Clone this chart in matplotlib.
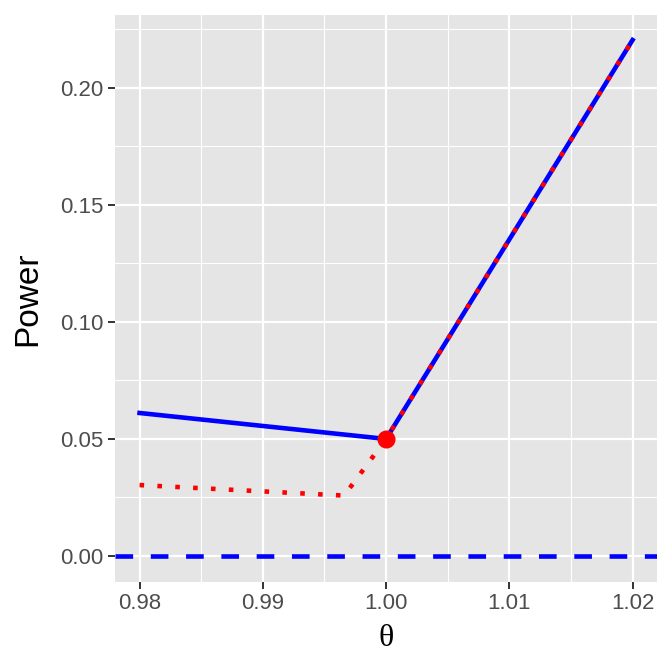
import numpy as np
import matplotlib.pyplot as plt

# data
theta_blue = [0.98, 1.00, 1.02]
power_blue = [0.0611, 0.0500, 0.2205]

theta_red = [0.98, 0.9966, 1.00, 1.02]
power_red = [0.0303, 0.0258, 0.0500, 0.2205]

level = 0.0
point_x = [1.00]
point_y = [0.05]

xticks = [0.98, 0.99, 1.00, 1.01, 1.02]
yticks = [0.00, 0.05, 0.10, 0.15, 0.20]

plt.rcParams['font.family'] = ['Liberation Sans', 'DejaVu Sans']

fig = plt.figure(figsize=(6.72, 6.72), dpi=100)
ax = fig.add_axes([0.171, 0.1344, 0.807, 0.8433])
ax.set_facecolor('#E5E5E5')

# grid like ggplot
ax.set_xticks(xticks)
ax.set_yticks(yticks)
ax.set_xticks([0.985, 0.995, 1.005, 1.015], minor=True)
ax.set_yticks([0.025, 0.075, 0.125, 0.175, 0.225], minor=True)
ax.grid(which='major', color='white', linewidth=1.6)
ax.grid(which='minor', color='white', linewidth=0.8)
ax.set_axisbelow(True)
for s in ax.spines.values():
    s.set_visible(False)

lw = 3.3
ax.axhline(level, color='blue', linewidth=lw, linestyle=(0, (3.85, 3.85)), dash_capstyle='butt')
ax.plot(theta_blue, power_blue, color='blue', linewidth=lw)
ax.plot(theta_red, power_red, color='red', linewidth=lw, linestyle=(0, (1.0, 2.9)),
        dash_capstyle='butt')
ax.plot(point_x, point_y, 'o', color='red', markersize=12, zorder=5)

ax.set_xlim(0.978, 1.022)
ax.set_ylim(-0.011, 0.2312)
ax.set_xticklabels(['0.98', '0.99', '1.00', '1.01', '1.02'])
ax.set_yticklabels(['0.00', '0.05', '0.10', '0.15', '0.20'])
ax.tick_params(which='major', length=5, width=1.4, color='#333333',
               labelsize=16, labelcolor='#4D4D4D', pad=3.5)
ax.tick_params(which='minor', length=0)

ax.set_xlabel('θ', family='Liberation Serif', fontsize=23)
ax.xaxis.set_label_coords(0.5, -0.10)
ax.xaxis.label.set_va('center')
ax.set_ylabel('Power', fontsize=24)
ax.yaxis.set_label_coords(-0.1614, 0.5)
ax.yaxis.label.set_va('center')

fig.savefig('out.png', dpi=100)
